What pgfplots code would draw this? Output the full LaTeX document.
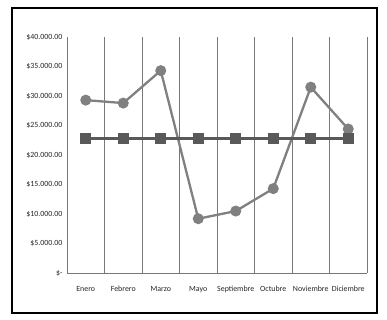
\documentclass[border=0pt]{standalone}
\usepackage{fontspec}
\setmainfont{Carlito}
\usepackage{pgfplots}
\pgfplotsset{compat=1.18}
\definecolor{serA}{RGB}{128,128,128}
\definecolor{serB}{RGB}{89,89,89}
\definecolor{gridc}{RGB}{120,120,120}
\begin{document}
\begin{tikzpicture}[x=1pt,y=1pt]
\path[use as bounding box,fill=white] (0,0) rectangle (387,319);
\draw[black,line width=1.4pt] (12,6) rectangle (377,311);
\begin{axis}[
  at={(67pt,46pt)}, anchor=south west,
  scale only axis, width=300pt, height=236pt,
  xmin=-0.5, xmax=7.5, ymin=0, ymax=40000,
  axis x line=bottom, axis y line=left,
  axis line style={gridc,-,line width=0.8pt},
  xtick={0,...,7},
  xticklabels={Enero,Febrero,Marzo,Mayo,Septiembre,Octubre,Noviembre,Diciembre},
  minor xtick={-0.5,0.5,...,7.5},
  xminorgrids, minor grid style={gridc,line width=0.8pt},
  ytick={0,5000,...,40000},
  scaled y ticks=false,
  yticklabels={\$-,\$5.000.00,\$10.000.00,\$15.000.00,\$20.000.00,\$25.000.00,\$30.000.00,\$35.000.00,\$40.000.00},
  major tick length=0pt, minor tick length=0pt,
  tick label style={font=\fontsize{7.9}{9}\selectfont, black!85},
  xticklabel style={yshift=-9pt, text height=6pt, text depth=2pt},
  yticklabel style={xshift=-1pt},
  clip=false,
]
\addplot[serA, line width=2.3pt, mark=*, mark size=4.3pt, mark options={fill=serA,draw=serA}]
  coordinates {(0,29300) (1,28800) (2,34300) (3,9200) (4,10500) (5,14300) (6,31500) (7,24400)};
\addplot[serB, line width=3.8pt, mark=square*, mark size=5pt, mark options={fill=serB,draw=serB,line width=0pt}]
  coordinates {(0,22781) (1,22781) (2,22781) (3,22781) (4,22781) (5,22781) (6,22781) (7,22781)};
\end{axis}
\end{tikzpicture}
\end{document}
